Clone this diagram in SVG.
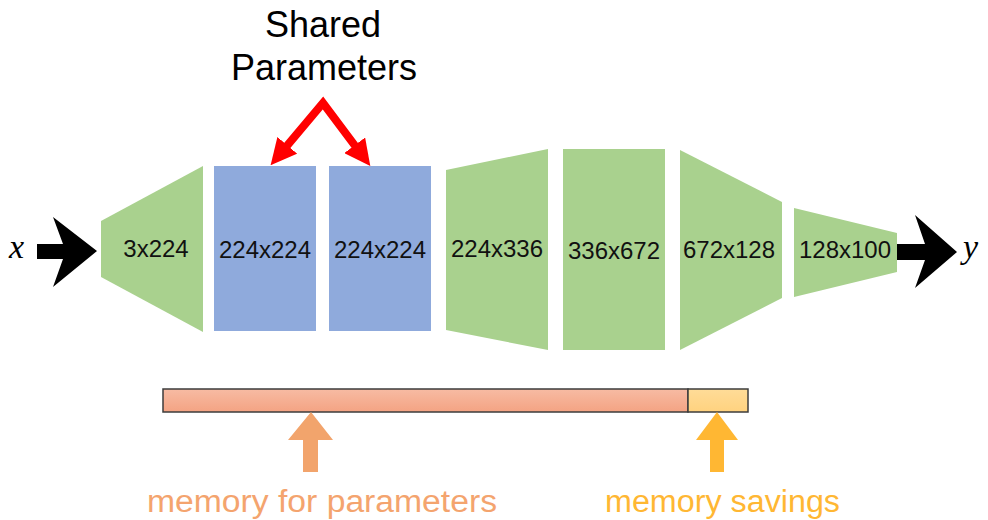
<svg xmlns="http://www.w3.org/2000/svg" width="988" height="520" viewBox="0 0 988 520">
  <style>
    .layer-green { fill: #a9d18e; }
    .layer-blue { fill: #8faadc; }
    .dims { font-family: "Liberation Sans", Arial, sans-serif; font-size: 24px; fill: #111; text-anchor: middle; }
    .title { font-family: "Liberation Sans", Arial, sans-serif; font-size: 36px; fill: #000; text-anchor: middle; }
    .var { font-family: "Liberation Serif", "DejaVu Serif", serif; font-style: italic; font-size: 34px; fill: #000; }
    .io { fill: #000; }
    .share { fill: none; stroke: #ff0000; stroke-width: 8; stroke-linejoin: miter; }
    .caption { font-family: "Liberation Sans", Arial, sans-serif; font-size: 31px; }
  </style>
  <defs>
    <marker id="red-head" markerUnits="userSpaceOnUse" viewBox="0 0 26 26" markerWidth="26" markerHeight="26" refX="1" refY="13" orient="auto-start-reverse">
      <path d="M0,0 L26,13 L0,26 Z" fill="#ff0000"/>
    </marker>
    <linearGradient id="bar-used" x1="0" y1="0" x2="0" y2="1">
      <stop offset="0" stop-color="#f7bba3"/>
      <stop offset="1" stop-color="#f4a383"/>
    </linearGradient>
    <linearGradient id="bar-saved" x1="0" y1="0" x2="0" y2="1">
      <stop offset="0" stop-color="#ffdc98"/>
      <stop offset="1" stop-color="#ffd27f"/>
    </linearGradient>
  </defs>

  <!-- title -->
  <g id="shared-label">
    <text class="title" x="323" y="37">Shared</text>
    <text class="title" x="324" y="80">Parameters</text>
  </g>

  <!-- network layers -->
  <g id="layer-1">
    <polygon class="layer-green" points="101,221 203,166 203,332 101,277"/>
    <text class="dims" x="156" y="257">3x224</text>
  </g>
  <g id="layer-2">
    <rect class="layer-blue" x="214" y="166" width="102" height="165"/>
    <text class="dims" x="265" y="258">224x224</text>
  </g>
  <g id="layer-3">
    <rect class="layer-blue" x="329" y="166" width="102" height="165"/>
    <text class="dims" x="380" y="258">224x224</text>
  </g>
  <g id="layer-4">
    <polygon class="layer-green" points="446,170 548,149 548,350 446,330"/>
    <text class="dims" x="497" y="257">224x336</text>
  </g>
  <g id="layer-5">
    <rect class="layer-green" x="563" y="149" width="102" height="201"/>
    <text class="dims" x="614" y="259">336x672</text>
  </g>
  <g id="layer-6">
    <polygon class="layer-green" points="680,150 782,202 782,298 680,350"/>
    <text class="dims" x="729" y="258">672x128</text>
  </g>
  <g id="layer-7">
    <polygon class="layer-green" points="794,208 897,233 897,272 794,297"/>
    <text class="dims" x="845" y="258">128x100</text>
  </g>

  <!-- input / output -->
  <g id="input">
    <text class="var" x="9" y="258">x</text>
    <polygon class="io" points="37,244 63,244 53,217 97,251 53,287 63,259 37,259"/>
  </g>
  <g id="output">
    <polygon class="io" points="897,244 925,244 915,215 957,252 915,288 925,260 897,260"/>
    <text class="var" x="963" y="258">y</text>
  </g>

  <!-- memory bar -->
  <g id="memory-bar">
    <rect x="163" y="389" width="525" height="23" fill="url(#bar-used)" stroke="#3c3c3c" stroke-width="1.5"/>
    <rect x="688" y="389" width="60" height="23" fill="url(#bar-saved)" stroke="#3c3c3c" stroke-width="1.5"/>
  </g>
  <g id="memory-params">
    <polygon points="303,472 318,472 318,440 333,440 311,412 288,440 303,440" fill="#f2a46c"/>
    <text class="caption" x="147" y="512" fill="#f4a46e" textLength="350" lengthAdjust="spacingAndGlyphs">memory for parameters</text>
  </g>
  <g id="memory-savings">
    <polygon points="710,472 724,472 724,440 738,440 717,412 696,440 710,440" fill="#ffb733"/>
    <text class="caption" x="605" y="512" fill="#ffb733" textLength="235" lengthAdjust="spacingAndGlyphs">memory savings</text>
  </g>

  <!-- connectors -->
  <g id="connectors">
    <path class="share" d="M286.7,146.1 L323,103 L355.3,146.1" marker-start="url(#red-head)" marker-end="url(#red-head)"/>
  </g>
</svg>
